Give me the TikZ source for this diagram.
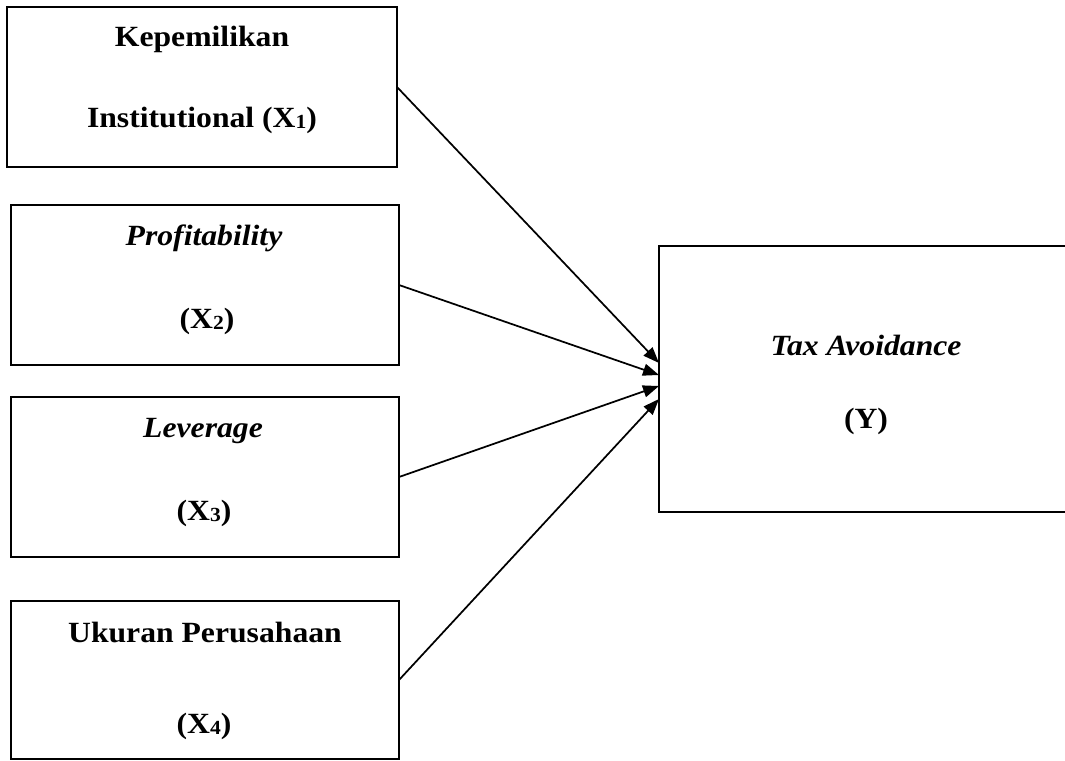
\documentclass[tikz,border=0pt]{standalone}
\usepackage{fontspec}
\setmainfont{Liberation Serif}[FakeStretch=1.08]
\usetikzlibrary{arrows.meta}
\newcommand\subdig[1]{\raisebox{-1.3pt}{\fontsize{15pt}{15pt}\selectfont #1}}
\begin{document}
\begin{tikzpicture}[x=0.75pt,y=-0.75pt,
  varbox/.style={draw=black,line width=1.6pt,inner sep=0pt,outer sep=0pt},
  lbl/.style={anchor=base,inner sep=0pt,font=\fontsize{22pt}{26pt}\selectfont\bfseries},
  ilbl/.style={lbl,font=\fontsize{22pt}{26pt}\selectfont\bfseries\itshape},
  link/.style={line width=1.3pt,-{Triangle[length=12pt,width=9pt]}}]
\useasboundingbox (0,0) rectangle (1065,761);
\clip (0,0) rectangle (1065,761);
% boxes
\node[varbox,minimum width=292.5pt,minimum height=120pt] (b1) at (202,87) {};
\node[varbox,minimum width=291pt,minimum height=120pt] (b2) at (205,285) {};
\node[varbox,minimum width=291pt,minimum height=120pt] (b3) at (205,477) {};
\node[varbox,minimum width=291pt,minimum height=118.5pt] (b4) at (205,680) {};
\node[varbox,minimum width=312pt,minimum height=199.5pt] (Y) at (867,379) {};
% labels
\node[lbl] (t1a) at (202,46.5) {Kepemilikan};
\node[lbl] (t1b) at (202,127) {Institutional (X\subdig{1})};
\node[ilbl] (t2a) at (204,245) {Profitability};
\node[lbl] (t2b) at (207,328) {(X\subdig{2})};
\node[ilbl] (t3a) at (203,437) {Leverage};
\node[lbl] (t3b) at (204,520) {(X\subdig{3})};
\node[lbl] (t4a) at (205,642) {Ukuran Perusahaan};
\node[lbl] (t4b) at (204,733) {(X\subdig{4})};
\node[ilbl] (tya) at (866,355) {Tax Avoidance};
\node[lbl] (tyb) at (866,428) {(Y)};
% connectors
\draw[link] (b1.east) -- ([yshift=12pt]Y.west);
\draw[link] (b2.east) -- ([yshift=3pt]Y.west);
\draw[link] (b3.east) -- ([yshift=-5.25pt]Y.west);
\draw[link] (b4.east) -- ([yshift=-15pt]Y.west);
\end{tikzpicture}
\end{document}
